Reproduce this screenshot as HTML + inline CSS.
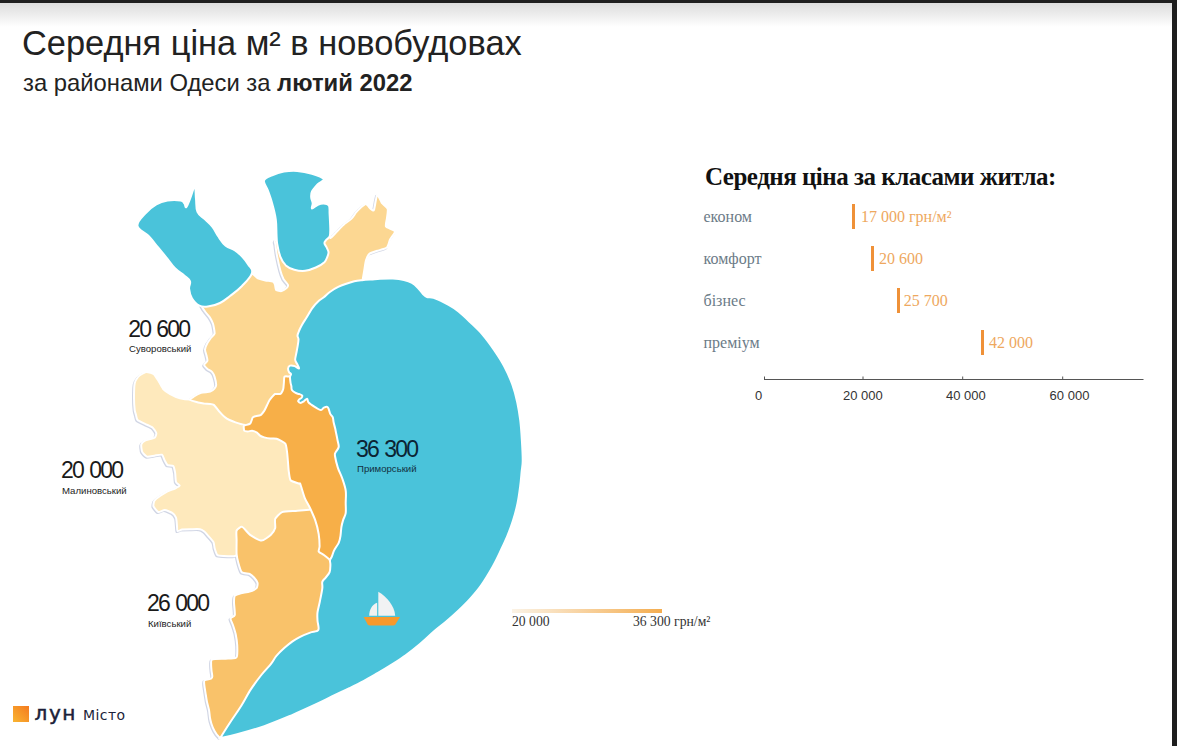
<!DOCTYPE html>
<html lang="uk"><head><meta charset="utf-8">
<style>
html,body{margin:0;padding:0;}
body{width:1177px;height:746px;position:relative;overflow:hidden;background:#fff;font-family:"Liberation Sans",sans-serif;}
.abs{position:absolute;white-space:nowrap;}
#topbar{position:absolute;left:0;top:0;width:1177px;height:3px;background:#1e1e1e;}
#topgrad{position:absolute;left:0;top:3px;width:1172px;height:24px;background:linear-gradient(#dcdcdc,#fff);}
#rightbar{position:absolute;right:0;top:0;width:5px;height:746px;background:#1e1e1e;}
.t1{left:22px;top:23.5px;font-size:34.4px;color:#222;}
.t2{left:23px;top:68.7px;font-size:23.8px;color:#222;}
.t2 b{font-weight:bold;}
.ct{left:705px;top:162.5px;font-family:"Liberation Serif",serif;font-weight:bold;font-size:25px;letter-spacing:-0.5px;color:#111;}
.lab{font-family:"Liberation Serif",serif;font-size:16px;color:#6b7b87;left:703.5px;}
.val{font-family:"Liberation Serif",serif;font-size:16px;color:#eea85e;}
.bar{position:absolute;width:3px;height:25.5px;background:#ef9138;}
.ax{font-size:13px;color:#333;}
.mv{font-size:23px;color:#1a1a1a;letter-spacing:-1.8px;word-spacing:1.6px;}
.mn{font-size:9.6px;color:#222;}
.lg{font-family:"Liberation Serif",serif;font-size:13.7px;color:#333;}
</style></head><body>
<div id="topgrad"></div>
<div id="topbar"></div>
<div id="rightbar"></div>

<div class="abs t1">Середня ціна м² в новобудовах</div>
<div class="abs t2">за районами Одеси за <b>лютий 2022</b></div>

<svg class="abs" style="left:0;top:0" width="1177" height="746" viewBox="0 0 1177 746">
 <g stroke="#fff" stroke-width="2" stroke-linejoin="round">
  <g style="filter:drop-shadow(-0.7px 1.5px 0.5px rgba(150,162,195,0.45))">
  <path d="M134.7 383.4 C135.1 381.3 137.2 378.0 138 377 C138.8 376.0 142.0 374.0 142.9 373.5 C143.8 373.0 145.7 371.9 146.8 372 C147.9 372.1 152.3 373.1 153.5 374 C154.7 374.9 157.8 379.9 158.8 381.4 C159.8 382.9 162.4 388.1 163.5 389.4 C164.6 390.7 168.5 393.2 170.2 394.1 C171.8 395.0 178.1 397.7 180 398.2 C181.9 398.7 187.7 399.5 189.7 399.5 C191.7 399.5 196.0 397.4 200 398 C204.0 398.6 225.0 403.0 230 405 C235.0 407.0 246.8 416.0 250 418 C253.2 420.0 258.5 422.8 262 425 C265.5 427.2 282.0 436.5 285 440 C288.0 443.5 290.5 456.0 292 460 C293.5 464.0 298.6 476.5 300 480 C301.4 483.5 304.7 492.0 306 495 C307.3 498.0 311.8 507.5 313 510 C314.2 512.5 319.3 518.0 318 520 C316.7 522.0 306.8 527.5 300 530 C293.2 532.5 256.0 542.8 250 545 C244.0 547.2 241.5 550.9 240 552 C238.5 553.1 236.7 555.6 235.1 556 C233.5 556.4 225.7 556.1 223.9 556 C222.1 555.9 218.2 555.8 217.3 555 C216.4 554.2 215.1 549.8 214.7 548.5 C214.3 547.2 214.1 543.3 213.4 542 C212.7 540.7 208.9 536.6 208 535.6 C207.1 534.6 205.1 532.1 204.3 531.5 C203.5 530.9 201.4 529.4 200 529.2 C198.6 529.0 191.8 529.2 190 529.2 C188.2 529.2 183.2 529.4 182 529.6 C180.8 529.8 178.0 531.5 177.5 531 C177.0 530.5 177.1 526.4 176.9 525.1 C176.8 523.8 176.5 518.8 176 517.6 C175.5 516.4 173.3 513.6 172.2 512.9 C171.1 512.1 166.1 510.2 164.7 510.1 C163.3 510.0 159.3 512.4 158.2 512 C157.1 511.6 153.9 507.5 153.5 506.4 C153.1 505.3 153.8 501.7 154.4 500.7 C155.1 499.7 158.7 496.9 160 496 C161.3 495.1 166.0 492.1 167.5 491.3 C169.0 490.6 173.9 489.1 175.1 488.5 C176.3 487.9 179.6 486.3 179.7 485.7 C179.8 485.1 176.5 483.3 176 482 C175.5 480.7 175.4 474.2 175.1 472.6 C174.8 471.0 174.0 466.8 173.2 466 C172.4 465.2 168.3 465.7 167.5 465.1 C166.7 464.5 165.3 461.4 164.7 460.4 C164.1 459.4 162.9 455.2 161.9 454.7 C160.9 454.2 155.9 455.5 154.4 455.7 C152.9 455.9 148.1 457.0 146.9 456.6 C145.7 456.2 142.8 453.1 142.2 451.9 C141.6 450.7 141.0 445.5 141.3 444.4 C141.6 443.3 143.7 441.3 145 440.6 C146.3 439.9 153.3 438.6 154.4 437.8 C155.5 437.1 156.5 434.1 156.3 433.1 C156.1 432.1 153.6 428.4 152.5 427.5 C151.4 426.6 146.5 424.6 145 423.8 C143.5 423.1 138.4 420.9 137.5 420 C136.6 419.1 136.3 416.0 136 415 C135.7 414.0 134.9 411.9 134.7 410.2 C134.5 408.5 134.0 400.7 134 398 C134.0 395.3 134.3 385.5 134.7 383.4Z" fill="#fee9bc"/>
  <path d="M200 300 C201.8 298.2 215.5 292.5 220 290 C224.5 287.5 241.8 276.6 245 275 C248.2 273.4 251.2 273.7 252.5 274 C253.8 274.3 256.6 277.7 257.9 278.3 C259.2 278.9 263.9 280.1 265.4 280.4 C266.9 280.7 271.9 281.1 272.9 281.5 C273.9 281.9 274.7 283.8 275 284.7 C275.3 285.6 275.5 289.4 276.1 290 C276.8 290.6 280.4 291.3 281.5 291.1 C282.6 290.9 286.2 288.5 286.8 287.9 C287.4 287.3 288.2 285.6 287.9 284.7 C287.6 283.8 284.4 280.7 283.6 279.3 C282.9 277.9 281.0 273.1 280.4 270.8 C279.8 268.6 277.7 259.4 277.2 256.8 C276.7 254.2 275.6 246.7 275.5 245 C275.4 243.3 273.6 240.5 276 240 C278.4 239.5 294.8 240.3 300 240 C305.2 239.7 324.9 237.2 328 237 C331.1 236.8 329.7 238.5 330.6 237.9 C331.5 237.3 335.7 232.8 337 231.5 C338.3 230.2 341.9 226.3 343.4 225 C344.8 223.7 350.2 219.9 351.5 218.6 C352.8 217.3 355.3 213.3 356.3 212.2 C357.3 211.1 360.1 208.1 361.1 207.3 C362.1 206.5 365.0 203.9 366 204.1 C367.0 204.3 370.0 208.4 370.8 209 C371.6 209.6 373.4 211.2 374 209.8 C374.6 208.4 376.4 195.5 377.2 194.8 C378.0 194.1 380.8 201.4 381.8 202.8 C382.9 204.2 387.2 207.4 387.7 209 C388.2 210.6 387.1 216.8 386.9 218.6 C386.7 220.4 385.2 225.3 386 226.6 C386.8 227.9 394.5 230.2 394.9 231.5 C395.3 232.8 390.9 237.9 390.1 239.5 C389.3 241.1 388.2 246.5 386.9 247.6 C385.6 248.7 379.0 250.2 377.2 250.8 C375.4 251.4 370.3 253.0 369.2 254 C368.1 255.0 366.5 258.8 366 260.4 C365.5 262.0 364.6 268.2 364.3 270.1 C364.0 272.0 363.1 276.7 362.7 279.7 C362.3 282.7 363.3 295.0 360 300 C356.7 305.0 335.0 324.0 330 330 C325.0 336.0 313.0 354.0 310 360 C307.0 366.0 302.5 385.0 300 390 C297.5 395.0 288.8 406.5 285 410 C281.2 413.5 265.5 423.3 262 425 C258.5 426.7 251.8 427.0 250 427 C248.2 427.0 244.8 425.1 244 424.8 C243.2 424.5 242.4 424.4 241.6 424.2 C240.8 424.0 236.7 422.8 235.5 422.4 C234.3 422.0 230.6 420.5 229.5 420 C228.4 419.5 225.5 417.7 224.7 417 C223.8 416.3 221.7 414.2 221 413.4 C220.3 412.6 218.1 410.0 217.4 409.1 C216.7 408.2 214.5 405.4 213.8 404.9 C213.1 404.4 211.2 404.1 210.2 404 C209.2 403.9 205.3 403.5 204.1 403.4 C202.9 403.2 199.5 402.9 198.1 402.5 C196.7 402.1 190.4 400.4 190 399.8 C189.6 399.2 192.8 397.2 193.9 396.5 C195.0 395.8 199.5 393.3 201.1 392.8 C202.7 392.3 208.9 392.0 210.2 391.6 C211.5 391.2 213.8 389.3 214.4 388.6 C215.0 387.9 216.2 386.2 216.2 385 C216.2 383.8 215.0 378.2 214.6 376.9 C214.2 375.6 212.9 372.9 212.2 372.1 C211.5 371.3 208.2 369.6 207.4 368.9 C206.6 368.2 204.1 365.6 204.1 364.8 C204.1 364.0 207.2 361.7 207.4 360.8 C207.7 359.9 206.8 357.1 206.6 356 C206.4 354.9 204.9 350.9 205 349.6 C205.1 348.3 206.8 344.2 207.4 343.1 C208.0 342.0 209.9 339.3 210.6 338.3 C211.3 337.3 214.4 334.9 214.6 333.5 C214.8 332.1 213.5 325.4 213 323.8 C212.5 322.2 210.5 318.5 209.8 317.4 C209.1 316.3 206.5 313.5 205.8 312.5 C205.1 311.5 203.1 308.9 202.5 307.7 C201.9 306.4 198.2 301.8 200 300Z" fill="#fcd792"/>
  <path d="M236.6 530.5 C237.2 529.2 240.8 526.5 242.2 526.9 C243.5 527.3 248.2 533.5 250.1 534.9 C252.0 536.3 259.4 540.6 261.5 540.6 C263.6 540.6 269.3 536.2 270.7 534.9 C272.1 533.6 274.8 529.6 275.2 528 C275.6 526.4 274.5 520.5 275.2 518.9 C275.9 517.3 280.1 512.9 282.1 512.1 C284.2 511.3 293.0 511.1 295.7 510.9 C298.4 510.7 307.0 509.9 309.4 509.8 C311.8 509.7 316.4 507.0 320 510 C323.6 513.0 343.0 531.0 345 540 C347.0 549.0 344.5 586.0 340 600 C335.5 614.0 310.5 667.5 300 680 C289.5 692.5 242.9 719.3 235 725 C227.1 730.7 222.6 736.1 221 737.3 C219.4 738.5 219.7 737.6 219 737 C218.3 736.4 215.2 732.3 214.5 731 C213.8 729.7 211.9 725.3 211.5 724 C211.1 722.7 210.2 719.4 210 718 C209.8 716.6 209.3 711.6 209 710 C208.7 708.4 207.4 703.8 207 702 C206.6 700.2 205.7 694.1 205.4 692.3 C205.1 690.5 204.3 685.4 204.2 684.2 C204.1 683.0 203.9 680.8 204.6 680.2 C205.3 679.6 210.3 679.0 211.1 678.6 C211.9 678.2 212.3 677.0 212.3 676.2 C212.3 675.4 211.6 671.7 211.5 670.5 C211.4 669.3 211.0 665.2 211.1 664.1 C211.2 663.0 210.7 660.0 212 659.5 C213.3 659.0 221.8 658.9 224.1 658.8 C226.4 658.6 234.1 658.3 235.4 658 C236.7 657.7 236.8 657.4 237 656.1 C237.2 654.8 237.3 647.2 237.2 645 C237.1 642.8 236.1 636.2 235.7 634.2 C235.3 632.2 233.6 627.1 233.1 625.5 C232.6 623.9 230.3 619.5 230.5 618.5 C230.7 617.5 234.5 616.6 234.8 615 C235.2 613.4 234.0 604.7 234 602.8 C234.0 600.9 234.1 596.8 234.8 595.8 C235.5 594.8 239.4 593.6 240.9 593.2 C242.4 592.8 248.1 592.0 249.7 591.5 C251.3 591.0 255.8 588.9 256.6 588 C257.4 587.1 257.8 583.8 257.5 582.7 C257.2 581.7 254.8 578.4 254 577.5 C253.2 576.6 250.9 574.5 249.7 574 C248.5 573.5 242.9 573.4 241.8 572.3 C240.7 571.2 238.8 564.5 238.3 562.7 C237.8 560.9 236.8 556.3 236.6 554 C236.4 551.7 236.6 542.4 236.6 540 C236.6 537.6 236.0 531.8 236.6 530.5Z" fill="#f9c26a"/>
  <path d="M284.4 376.9 C284.8 376.3 285.9 376.2 287.5 376.5 C289.1 376.8 294.8 375.6 300 380 C305.2 384.4 335.0 410.0 340 420 C345.0 430.0 349.0 469.0 350 480 C351.0 491.0 351.2 522.0 350 530 C348.8 538.0 340.0 557.0 338 560 C336.0 563.0 331.1 560.6 330.2 560.5 C329.3 560.4 329.8 559.8 329.2 559.3 C328.6 558.8 324.9 555.8 323.9 555 C322.8 554.2 319.1 552.4 318.7 551.5 C318.3 550.6 319.6 548.0 319.6 546.3 C319.6 544.6 319.1 536.7 318.7 534.1 C318.3 531.5 316.1 522.7 315.2 520.1 C314.3 517.5 311.0 510.2 310 508 C309.0 505.8 305.9 500.8 304.9 498.4 C303.9 496.0 300.9 485.5 300.3 484 C299.7 482.5 300.3 484.2 299.3 483.8 C298.3 483.4 291.7 481.5 290.6 480.3 C289.6 479.1 289.1 473.5 288.8 471.6 C288.5 469.7 288.1 463.0 287.9 461.1 C287.7 459.2 287.4 454.1 287.1 452.4 C286.8 450.7 286.4 445.1 285.3 443.7 C284.2 442.3 278.1 439.3 276.6 438.8 C275.1 438.3 271.4 438.7 270.2 438.6 C269.0 438.5 265.2 437.7 264.2 437.4 C263.2 437.1 260.7 436.1 260 435.6 C259.3 435.1 257.8 433.1 257 432.6 C256.2 432.1 253.0 430.9 252.1 430.8 C251.2 430.7 248.7 431.4 247.9 431.4 C247.1 431.4 244.7 431.4 244.3 430.8 C243.9 430.2 243.6 426.4 243.7 425.9 C243.8 425.3 244.2 425.5 244.9 425.3 C245.6 425.1 249.5 424.3 250.3 423.5 C251.1 422.7 252.2 418.2 252.7 417.5 C253.2 416.8 254.4 416.5 255.2 416.3 C256.0 416.1 259.7 415.6 260.6 415.1 C261.5 414.6 263.5 411.9 264.2 410.9 C264.9 409.9 266.7 405.9 267.2 404.8 C267.7 403.7 269.1 400.8 269.6 400 C270.1 399.2 271.8 397.2 272.3 396.6 C272.8 396.0 274.2 394.3 275 394 C275.8 393.7 279.9 394.1 280.6 393.8 C281.4 393.5 282.2 391.6 282.5 391 C282.8 390.4 283.3 389.1 283.4 388.2 C283.5 387.3 283.8 383.6 283.9 382.5 C284.0 381.4 284.0 377.5 284.4 376.9Z" fill="#f7af48"/>
  </g>
  <path d="M338.2 286.9 C340.9 285.6 343.6 284.6 346.3 283.7 C349.0 282.8 351.7 281.9 354.3 281.3 C356.9 280.7 359.2 280.5 362 280.2 C364.8 279.9 368.0 279.7 371 279.5 C374.0 279.3 376.4 279.0 380 278.8 C383.6 278.6 388.9 278.3 392.9 278.5 C396.9 278.7 400.8 279.2 404 280 C407.2 280.8 409.7 281.7 412 283 C414.3 284.3 416.2 286.2 418 288 C419.8 289.8 421.5 292.5 423 294 C424.5 295.5 425.2 296.4 427 297 C428.8 297.6 430.0 296.5 433.6 297.8 C437.2 299.1 444.5 302.7 448.6 305 C452.8 307.3 454.9 308.7 458.5 311.5 C462.1 314.3 466.1 318.2 470 322 C473.9 325.8 478.1 329.4 482.1 334.1 C486.1 338.8 490.5 344.8 494.2 350.2 C497.9 355.6 501.2 360.6 504.2 366.3 C507.2 372.0 510.1 378.4 512.3 384.4 C514.5 390.4 516.0 396.4 517.3 402.5 C518.6 408.6 519.5 414.3 520.3 420.7 C521.1 427.1 521.5 434.1 521.9 440.8 C522.3 447.5 522.8 455.7 522.7 460.9 C522.7 466.1 522.0 467.8 521.6 472 C521.2 476.2 520.9 480.9 520.2 486.1 C519.5 491.4 518.7 497.7 517.5 503.5 C516.3 509.3 514.6 515.5 512.9 520.9 C511.2 526.2 509.5 530.7 507.5 535.6 C505.5 540.5 503.2 545.3 500.8 550.4 C498.4 555.5 496.1 560.6 492.8 566.4 C489.5 572.2 484.9 579.9 481.2 585.3 C477.4 590.7 474.1 594.4 470.3 598.6 C466.5 602.8 462.3 606.9 458.3 610.7 C454.3 614.5 450.2 618.1 446.2 621.5 C442.2 624.9 438.5 627.5 434.1 631.2 C429.7 635.0 424.7 640.0 420 644 C415.3 648.0 410.4 651.8 405.7 655.3 C401.0 658.8 396.3 661.7 391.6 664.7 C386.9 667.7 382.2 670.5 377.5 673.2 C372.8 675.9 368.2 678.6 363.5 681.1 C358.8 683.6 354.3 685.8 349.4 688.2 C344.5 690.6 339.1 693.0 334 695.5 C328.9 698.0 325.9 699.7 318.8 703 C311.7 706.3 300.7 711.4 291.6 715.3 C282.5 719.1 273.5 722.9 264.4 726.1 C255.3 729.3 244.4 732.3 237.2 734.3 C229.9 736.3 223.6 737.6 220.9 738.1 C218.2 738.6 219.3 739.7 220.9 737 C222.5 734.3 227.0 727.2 230.4 722 C233.8 716.8 237.9 711.1 241.3 705.7 C244.7 700.3 247.4 694.6 250.8 689.4 C254.2 684.2 258.3 678.8 261.7 674.5 C265.1 670.2 268.8 666.7 271.2 663.6 C273.6 660.5 274.2 658.5 276.4 655.9 C278.6 653.3 281.8 650.2 284.5 647.8 C287.2 645.4 289.8 643.3 292.5 641.4 C295.2 639.5 297.7 638.1 300.6 636.6 C303.6 635.1 307.2 633.7 310.2 632.6 C313.1 631.5 317.1 632.1 318.3 630.1 C319.5 628.1 317.6 623.5 317.5 620.5 C317.4 617.5 317.1 615.6 317.5 612.4 C317.9 609.2 319.1 605.2 319.9 601.2 C320.7 597.2 321.9 591.5 322.3 588.3 C322.7 585.1 321.8 583.6 322.3 581.9 C322.8 580.1 324.3 579.4 325.5 577.8 C326.7 576.2 328.8 574.3 329.6 572.2 C330.4 570.1 330.3 567.0 330.4 565 C330.5 563.0 329.8 561.6 330 560.2 C330.2 558.8 331.1 558.4 331.8 556.7 C332.5 555.0 333.2 552.1 334.4 549.8 C335.5 547.5 337.7 545.1 338.7 542.8 C339.7 540.5 340.1 538.4 340.5 535.8 C340.9 533.2 341.0 529.7 341.4 527.1 C341.8 524.5 342.4 522.4 343.1 520.1 C343.8 517.8 345.3 516.1 345.7 513.2 C346.1 510.3 345.7 506.5 345.7 502.7 C345.7 498.9 346.3 494.6 345.7 490.5 C345.1 486.4 343.5 482.1 342.2 478.3 C340.9 474.5 339.1 471.6 337.9 467.9 C336.7 464.2 335.4 458.6 335 456 C334.6 453.4 334.9 454.0 335.5 452.5 C336.1 451.0 338.4 449.1 338.7 447 C339.0 444.9 337.9 442.4 337.5 440 C337.1 437.6 336.4 434.5 336 432.6 C335.6 430.7 335.6 430.3 335.2 428.6 C334.8 426.9 334.0 424.1 333.6 422.2 C333.2 420.3 333.3 418.6 332.8 417.3 C332.3 416.0 331.1 415.4 330.4 414.1 C329.7 412.8 329.3 410.5 328.8 409.3 C328.3 408.1 328.0 407.2 327.2 406.9 C326.4 406.6 325.0 407.2 323.9 407.7 C322.8 408.2 322.0 410.1 320.7 410.1 C319.4 410.1 317.5 408.6 315.9 407.7 C314.3 406.8 312.4 405.4 311.1 404.5 C309.8 403.6 309.0 403.1 308.3 402.1 C307.6 401.2 307.9 398.9 307.1 398.8 C306.4 398.7 304.9 400.6 303.8 401.3 C302.7 402.0 301.5 402.9 300.6 402.9 C299.7 402.9 298.5 401.9 298.2 401.3 C297.9 400.8 298.5 400.2 299 399.6 C299.5 399.1 300.9 398.7 301.4 398 C301.9 397.3 302.6 396.3 302.2 395.6 C301.8 394.9 300.1 394.4 299 394 C297.9 393.6 296.8 393.6 295.6 392.9 C294.4 392.2 292.6 391.1 291.9 390 C291.2 388.9 291.6 387.6 291.4 386.3 C291.2 385.1 290.7 384.1 290.5 382.5 C290.3 380.9 289.9 378.3 290 376.9 C290.1 375.5 291.1 374.9 291 374.1 C290.9 373.3 289.6 373.1 289.1 372.2 C288.6 371.3 288.0 369.6 288.1 368.5 C288.2 367.4 288.9 366.0 290 365.6 C291.1 365.2 293.2 365.6 294.7 366.1 C296.2 366.6 298.4 368.7 298.9 368.5 C299.4 368.3 298.1 366.1 297.5 364.7 C296.9 363.3 295.4 361.7 295.2 360 C295.0 358.3 295.7 356.6 296.1 354.4 C296.5 352.2 297.1 349.4 297.5 346.9 C297.9 344.4 298.5 341.3 298.5 339.4 C298.5 337.5 297.4 337.2 297.5 335.6 C297.6 334.0 298.6 331.9 299.4 330 C300.2 328.1 301.4 326.0 302.5 324 C303.6 322.0 304.4 320.9 306.1 318.2 C307.8 315.5 310.5 310.6 312.5 307.8 C314.5 305.0 316.2 303.1 318.1 301.4 C320.0 299.6 321.8 298.9 323.8 297.3 C325.8 295.7 327.8 293.4 330.2 291.7 C332.6 290.0 335.5 288.2 338.2 286.9Z" fill="#4ac3da"/>
  <path d="M137.5 226 C136.7 221.5 141.2 218.1 145 213.8 C148.8 209.5 151.8 207.0 156.3 204.4 C160.8 201.8 162.6 201.4 167.5 200.6 C172.4 199.8 177.2 200.0 180.6 200.6 C184.0 201.2 183.3 202.1 184.4 203.4 C185.5 204.7 185.2 208.1 186.3 207.2 C187.4 206.3 188.3 202.8 190 198.8 C191.7 194.8 193.5 187.1 194.7 187.1 C195.9 187.1 195.4 193.8 196 198.8 C196.6 203.8 195.7 207.8 197.5 211.9 C199.3 216.0 202.0 216.4 205 219.4 C208.0 222.4 209.9 223.5 212.5 226.9 C215.1 230.3 215.6 232.5 218.2 236.3 C220.8 240.1 222.3 242.9 225.7 245.7 C229.1 248.5 231.6 248.1 235 250.4 C238.4 252.7 240.0 254.2 242.6 257 C245.2 259.8 246.3 261.2 248.2 264.4 C250.1 267.6 253.2 268.6 252 272.9 C250.8 277.2 246.4 281.4 242 286 C237.6 290.6 234.4 292.6 230 296 C225.6 299.4 224.2 300.9 220 303 C215.8 305.1 213.1 305.8 209 306.3 C204.9 306.8 202.8 307.3 199.4 305.7 C196.0 304.1 194.0 301.6 191.9 298.2 C189.8 294.8 189.5 292.2 189.1 288.8 C188.7 285.4 190.9 283.9 190 281.3 C189.1 278.7 187.4 278.3 184.4 275.7 C181.4 273.1 178.4 271.6 175 268.2 C171.6 264.8 170.9 262.9 167.5 258.8 C164.1 254.7 161.8 252.0 158.1 247.5 C154.4 243.0 152.9 240.6 148.8 236.3 C144.7 232.0 138.3 230.5 137.5 226Z" fill="#4ac3da"/>
  <path d="M264 180.5 C264.7 178.0 268.8 176.8 272.1 175.3 C275.4 173.8 279.7 172.3 283.9 171.6 C288.1 170.9 292.5 170.5 297.2 170.9 C301.9 171.3 307.6 172.5 312 173.8 C316.4 175.2 322.7 177.3 323.7 179 C324.7 180.7 319.8 182.1 317.8 184.2 C315.9 186.3 313.1 189.3 312 191.5 C310.9 193.7 311.1 195.4 311.2 197.4 C311.3 199.4 312.6 201.5 312.7 203.3 C312.8 205.2 311.1 208.2 312 208.5 C312.9 208.8 315.9 205.6 317.8 204.8 C319.8 204.0 321.9 203.5 323.7 203.6 C325.5 203.7 327.9 203.9 328.9 205.6 C329.9 207.3 329.4 209.6 329.6 213.7 C329.8 217.8 330.3 226.2 330.3 230 C330.3 233.8 330.3 234.8 329.7 236.4 C329.1 238.0 327.4 238.6 326.5 239.7 C325.6 240.8 324.4 241.7 324.4 242.9 C324.4 244.2 325.8 245.7 326.5 247.2 C327.2 248.7 328.3 250.5 328.5 252 C328.7 253.5 328.2 254.7 327.5 256.4 C326.8 258.1 326.3 260.3 324.4 262.2 C322.4 264.1 319.0 266.1 315.8 267.5 C312.6 268.9 308.7 270.4 305.1 270.8 C301.5 271.2 297.5 270.6 294.3 269.7 C291.1 268.8 288.1 267.5 285.8 265.4 C283.5 263.2 281.8 260.4 280.4 256.8 C279.0 253.2 277.8 247.7 277.2 243.9 C276.6 240.2 276.7 238.4 276.5 234.3 C276.3 230.2 276.5 224.8 275.8 219.6 C275.1 214.4 273.5 208.2 272.1 203.3 C270.8 198.4 269.1 193.9 267.7 190.1 C266.3 186.3 263.3 183.0 264 180.5Z" fill="#4ac3da"/>
 </g>
 <!-- boat -->
 <path d="M378.3 591.8 C387 597 394.5 606 395.2 615.8 L378.3 615.8 Z" fill="#f1f2f3"/>
 <path d="M377.1 602.8 C372 604.5 369.2 610 369.2 615.8 L377.1 615.8 Z" fill="#f1f2f3"/>
 <path d="M363.6 616.9 L400 616.9 L395.5 624.2 Q394.6 625.6 393 625.6 L370 625.6 Q368.4 625.6 367.6 624.2 Z" fill="#f7992d"/>
 <!-- chart axis -->
 <g stroke="#555" stroke-width="1">
  <line x1="764" y1="379.5" x2="1143.5" y2="379.5"/>
  <line x1="764.5" y1="376.5" x2="764.5" y2="379.5"/>
  <line x1="863" y1="376.5" x2="863" y2="379.5"/>
  <line x1="962.7" y1="376.5" x2="962.7" y2="379.5"/>
  <line x1="1062.7" y1="376.5" x2="1062.7" y2="379.5"/>
 </g>
 <defs><linearGradient id="lgd" x1="0" x2="1" y1="0" y2="0"><stop offset="0" stop-color="#fbf3e6"/><stop offset="1" stop-color="#f4ad50"/></linearGradient>
 <linearGradient id="logo" x1="0" y1="1" x2="1" y2="0"><stop offset="0" stop-color="#f9b531"/><stop offset="1" stop-color="#f47a20"/></linearGradient></defs>
 <rect x="512" y="609" width="150" height="4" fill="url(#lgd)"/>
 <rect x="13" y="706" width="16" height="16" fill="url(#logo)"/>
</svg>

<div class="abs ct">Середня ціна за класами житла:</div>
<div class="abs lab" style="top:208px">економ</div>
<div class="abs lab" style="top:250px">комфорт</div>
<div class="abs lab" style="top:292px">бізнес</div>
<div class="abs lab" style="top:334px">преміум</div>
<div class="bar" style="left:852.3px;top:203.6px"></div>
<div class="bar" style="left:871px;top:245.6px"></div>
<div class="bar" style="left:896.6px;top:287.7px"></div>
<div class="bar" style="left:980.7px;top:329.7px"></div>
<div class="abs val" style="left:861px;top:208px">17 000 грн/м²</div>
<div class="abs val" style="left:879px;top:250px">20 600</div>
<div class="abs val" style="left:903.8px;top:292px">25 700</div>
<div class="abs val" style="left:989px;top:334px">42 000</div>
<div class="abs ax" style="left:755px;top:388px">0</div>
<div class="abs ax" style="left:843px;top:388px">20 000</div>
<div class="abs ax" style="left:946px;top:388px">40 000</div>
<div class="abs ax" style="left:1049.6px;top:388px">60 000</div>

<div class="abs mv" style="left:128.2px;top:315.5px">20 600</div>
<div class="abs mn" style="left:129px;top:343px">Суворовський</div>
<div class="abs mv" style="left:61px;top:456.5px">20 000</div>
<div class="abs mn" style="left:62px;top:485px">Малиновський</div>
<div class="abs mv" style="left:147px;top:589.5px">26 000</div>
<div class="abs mn" style="left:148px;top:618px">Київський</div>
<div class="abs mv" style="left:356px;top:435.5px;color:#0c2433">36 300</div>
<div class="abs mn" style="left:357px;top:463px;color:#12303f">Приморський</div>

<div class="abs lg" style="left:512px;top:614px">20 000</div>
<div class="abs lg" style="left:633px;top:614px">36 300 грн/м²</div>

<div class="abs" style="left:34.5px;top:701px;font-family:'DejaVu Sans',sans-serif;font-size:20px;letter-spacing:1.6px;color:#1c1f3a;-webkit-text-stroke:0.5px #1c1f3a;">лун</div>
<div class="abs" style="left:83px;top:707px;font-family:'DejaVu Sans',sans-serif;font-size:14px;letter-spacing:0.45px;color:#1c1f3a;">Місто</div>
</body></html>
